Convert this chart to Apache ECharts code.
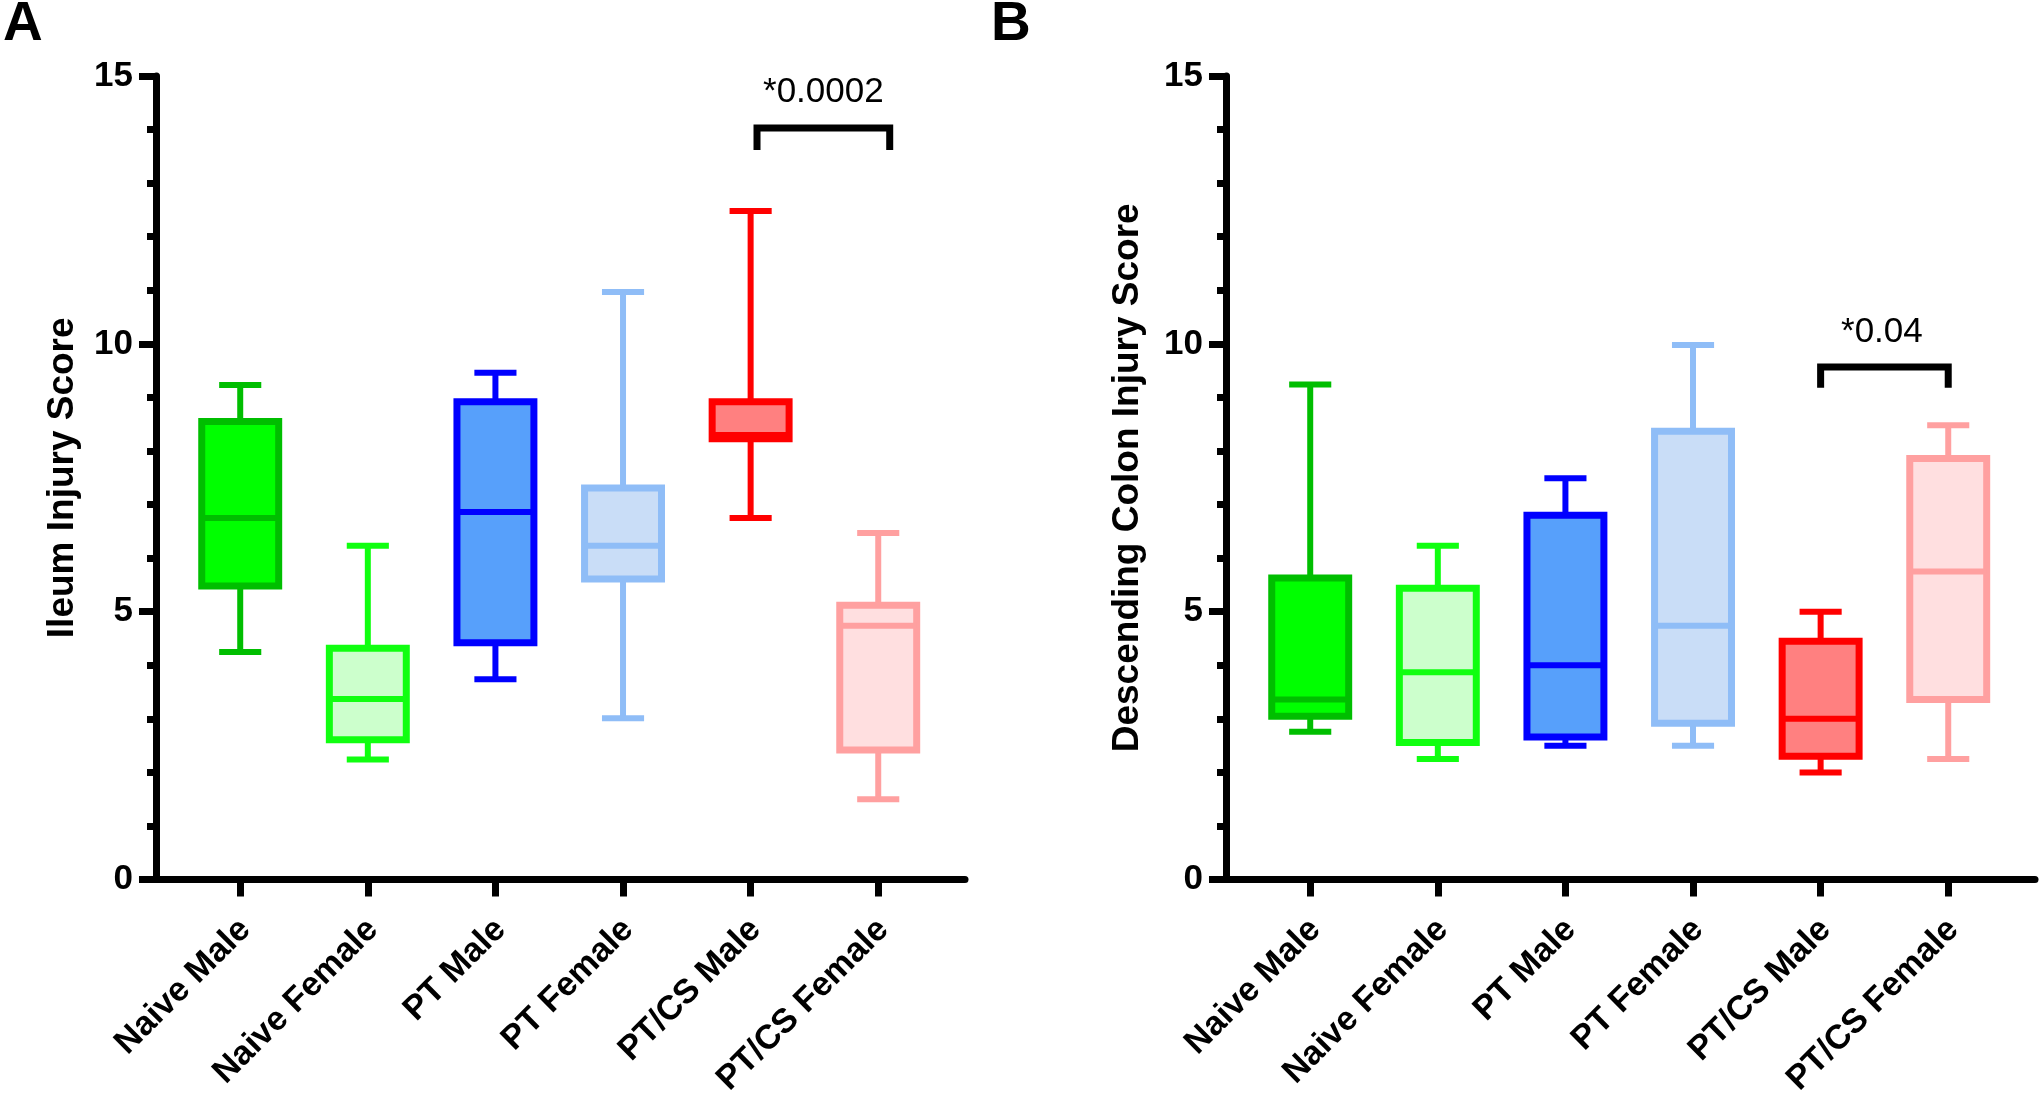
<!DOCTYPE html>
<html>
<head>
<meta charset="utf-8">
<script src="https://cdn.jsdelivr.net/npm/echarts@6/dist/echarts.min.js"></script>
<style>
  html, body { margin: 0; padding: 0; background: #fff; }
  #chart { width: 2040px; height: 1099px; }
</style>
</head>
<body>
<div id="chart"></div>
<script>
// ---- Data ----
const categories = ['Naive Male', 'Naive Female', 'PT Male', 'PT Female', 'PT/CS Male', 'PT/CS Female'];
const yTicks = [0, 5, 10, 15];

// Panel A: Ileum Injury Score (box: min, Q1, median, Q3, max)
const ileumMin    = [4.25, 2.24, 3.74, 3.01, 6.75, 1.50];
const ileumQ1     = [5.48, 2.61, 4.42, 5.61, 8.23, 2.42];
const ileumMedian = [6.75, 3.37, 6.86, 6.23, 8.30, 4.74];
const ileumQ3     = [8.55, 4.32, 8.92, 7.31, 8.92, 5.12];
const ileumMax    = [9.23, 6.23, 9.46, 10.97, 12.48, 6.47];

// Panel B: Descending Colon Injury Score
const colonMin    = [2.76, 2.25, 2.50, 2.50, 2.00, 2.25];
const colonQ1     = [3.05, 2.56, 2.66, 2.92, 2.30, 3.36];
const colonMedian = [3.36, 3.87, 4.00, 4.74, 3.00, 5.75];
const colonQ3     = [5.63, 5.44, 6.80, 8.37, 4.45, 7.86];
const colonMax    = [9.24, 6.23, 7.49, 9.98, 5.00, 8.48];

// Significance brackets: [x1, x2, barY, legY, labelX, labelY, label]
const sigIleum = [4.05, 5.09, 14.03, 13.62, 4.57, 14.69, '*0.0002'];
const sigColon = [4.0, 5.0, 9.57, 9.18, 4.48, 10.22, '*0.04'];

// ---- Styles ----
const strokeColors = ['#00BE00', '#10FF10', '#0000FF', '#8FBDF7', '#FF0000', '#FFA0A0'];
const fillColors   = ['#00FF00', '#CCFFCC', '#57A0FB', '#C9DDF7', '#FF8080', '#FFDFE0'];
const FONT = "'Liberation Sans', Arial, Helvetica, sans-serif";

function boxData(mins, q1, med, q3, maxs) {
  return categories.map((c, i) => [i, mins[i], q1[i], med[i], q3[i], maxs[i]]);
}

function renderBox(params, api) {
  const i = api.value(0);
  const idx = params.dataIndex;
  const pMin = api.coord([i, api.value(1)]);
  const pQ1 = api.coord([i, api.value(2)]);
  const pMed = api.coord([i, api.value(3)]);
  const pQ3 = api.coord([i, api.value(4)]);
  const pMax = api.coord([i, api.value(5)]);
  const cx = pMin[0];
  const w = api.size([0.603, 0])[0];
  const cw = api.size([0.33, 0])[0];
  const stroke = strokeColors[idx];
  const fill = fillColors[idx];
  const ls = { stroke: stroke, lineWidth: 6, lineCap: 'butt' };
  return {
    type: 'group',
    children: [
      { type: 'line', shape: { x1: cx, y1: pMax[1], x2: cx, y2: pQ3[1] }, style: ls },
      { type: 'line', shape: { x1: cx, y1: pQ1[1], x2: cx, y2: pMin[1] }, style: ls },
      { type: 'line', shape: { x1: cx - cw / 2, y1: pMax[1], x2: cx + cw / 2, y2: pMax[1] }, style: ls },
      { type: 'line', shape: { x1: cx - cw / 2, y1: pMin[1], x2: cx + cw / 2, y2: pMin[1] }, style: ls },
      { type: 'rect', shape: { x: cx - w / 2, y: pQ3[1], width: w, height: pQ1[1] - pQ3[1] },
        style: { fill: fill, stroke: stroke, lineWidth: 7, lineJoin: 'miter' } },
      { type: 'line', shape: { x1: cx - w / 2, y1: pMed[1], x2: cx + w / 2, y2: pMed[1] }, style: ls }
    ]
  };
}

function renderSig(params, api) {
  const a = api.coord([api.value(0), api.value(3)]);
  const b = api.coord([api.value(0), api.value(2)]);
  const c = api.coord([api.value(1), api.value(2)]);
  const d = api.coord([api.value(1), api.value(3)]);
  const t = api.coord([api.value(4), api.value(5)]);
  const label = params.seriesIndex === 2 ? sigIleum[6] : sigColon[6];
  return {
    type: 'group',
    children: [
      { type: 'polyline', shape: { points: [a, b, c, d] },
        style: { stroke: '#000', lineWidth: 7, fill: null, lineJoin: 'miter', lineCap: 'butt' } },
      { type: 'text', style: { text: label, x: t[0], y: t[1], align: 'center', verticalAlign: 'middle',
        fill: '#000', font: 'normal 35px ' + FONT } }
    ]
  };
}

function xAxisCfg(gridIndex) {
  return {
    type: 'value', gridIndex: gridIndex, min: -0.66, max: 5.68,
    axisLine: { show: true, onZero: false, lineStyle: { color: '#000', width: 7 } },
    axisTick: { show: true, length: 17, customValues: [0, 1, 2, 3, 4, 5], lineStyle: { color: '#000', width: 7 } },
    axisLabel: {
      show: true, customValues: [0, 1, 2, 3, 4, 5], rotate: 45, margin: 40, verticalAlign: 'top', lineHeight: 14,
      fontSize: 34, fontWeight: 'bold', color: '#000', fontFamily: FONT,
      formatter: function (v) { return categories[Math.round(v)]; }
    },
    splitLine: { show: false }
  };
}

function yAxisCfg(gridIndex, name, gap) {
  return {
    type: 'value', gridIndex: gridIndex, min: 0, max: 15, interval: 5,
    name: name, nameLocation: 'middle', nameGap: gap, nameRotate: 90,
    nameTextStyle: { fontSize: 37, fontWeight: 'bold', color: '#000', fontFamily: FONT },
    axisLine: { show: true, onZero: false, lineStyle: { color: '#000', width: 7 } },
    axisTick: { show: true, length: 17, lineStyle: { color: '#000', width: 7 } },
    minorTick: { show: true, splitNumber: 5, length: 9, lineStyle: { color: '#000', width: 7 } },
    axisLabel: { show: true, margin: 23, fontSize: 35, fontWeight: 'bold', color: '#000', fontFamily: FONT,
      customValues: yTicks },
    splitLine: { show: false },
    minorSplitLine: { show: false }
  };
}

const chart = echarts.init(document.getElementById('chart'), null, { renderer: 'canvas' });
chart.setOption({
  animation: false,
  backgroundColor: '#fff',
  title: [
    { text: 'A', left: 3, top: -3, padding: 0, textStyle: { fontSize: 55, fontWeight: 'bold', color: '#000', fontFamily: FONT } },
    { text: 'B', left: 991, top: -3, padding: 0, textStyle: { fontSize: 55, fontWeight: 'bold', color: '#000', fontFamily: FONT } }
  ],
  grid: [
    { left: 156, top: 76, width: 809, height: 807 },
    { left: 1226, top: 76, width: 809, height: 807 }
  ],
  xAxis: [xAxisCfg(0), xAxisCfg(1)],
  yAxis: [yAxisCfg(0, 'Ileum Injury Score', 75), yAxisCfg(1, 'Descending Colon Injury Score', 80)],
  series: [
    { type: 'custom', xAxisIndex: 0, yAxisIndex: 0, renderItem: renderBox,
      encode: { x: 0, y: [1, 2, 3, 4, 5] },
      data: boxData(ileumMin, ileumQ1, ileumMedian, ileumQ3, ileumMax) },
    { type: 'custom', xAxisIndex: 1, yAxisIndex: 1, renderItem: renderBox,
      encode: { x: 0, y: [1, 2, 3, 4, 5] },
      data: boxData(colonMin, colonQ1, colonMedian, colonQ3, colonMax) },
    { type: 'custom', xAxisIndex: 0, yAxisIndex: 0, renderItem: renderSig,
      encode: { x: [0, 1, 4], y: [2, 3, 5] },
      data: [sigIleum.slice(0, 6)] },
    { type: 'custom', xAxisIndex: 1, yAxisIndex: 1, renderItem: renderSig,
      encode: { x: [0, 1, 4], y: [2, 3, 5] },
      data: [sigColon.slice(0, 6)] }
  ]
});
</script>
</body>
</html>
